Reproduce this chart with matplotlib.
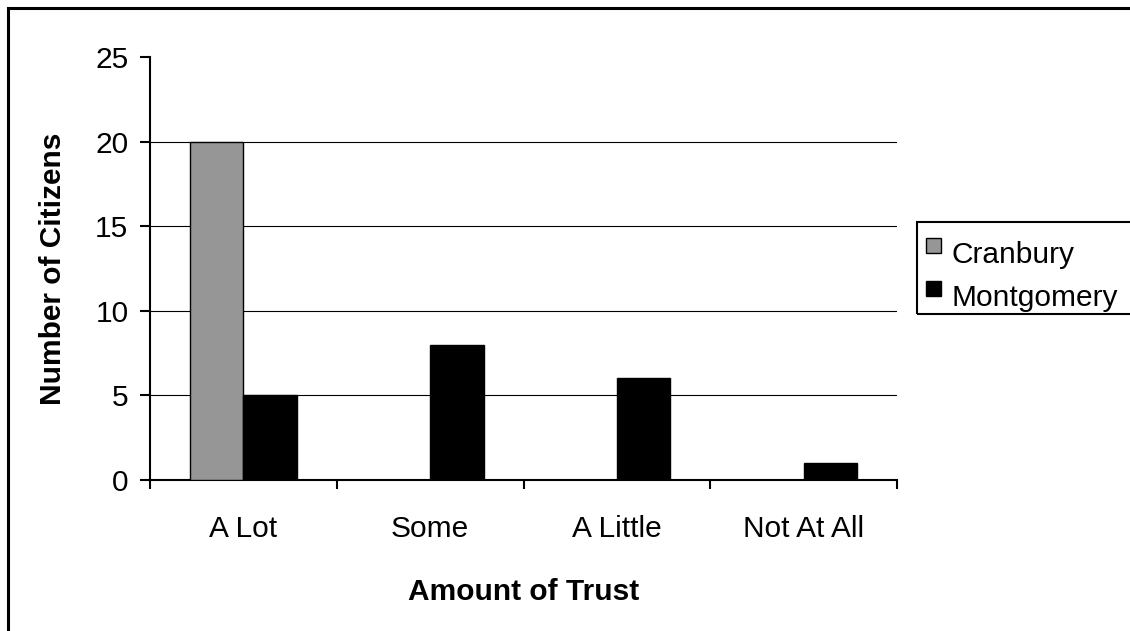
import numpy as np
import matplotlib.pyplot as plt
from matplotlib.patches import Rectangle
from matplotlib.container import BarContainer
from matplotlib.legend_handler import HandlerPatch, update_from_first_child

plt.rcParams['font.family'] = ['Liberation Sans', 'DejaVu Sans']

# data
categories = ['A Lot', 'Some', 'A Little', 'Not At All']
cranbury = [20, 0, 0, 0]
montgomery = [5, 8, 6, 1]

fig = plt.figure(figsize=(11.3, 6.31), dpi=100)
ax = fig.add_axes([150 / 1130, 1 - 480 / 631, 747 / 1130, 423 / 631])

x = np.arange(len(categories))
w = 0.287
ax.bar(x - w / 2, cranbury, w, color='#969696', edgecolor='black', linewidth=1.0,
       label='Cranbury', zorder=3)
ax.bar(x + w / 2, montgomery, w, color='black', edgecolor='black', linewidth=1.0,
       label='Montgomery', zorder=3)

ax.set_xlim(-0.5, len(categories) - 0.5)
ax.set_ylim(0, 25)
ax.set_yticks([0, 5, 10, 15, 20, 25])
for yv in [5, 10, 15, 20]:
    ax.axhline(yv, color='black', linewidth=0.8, zorder=1)

# ticks at group boundaries, labels at centers
ax.set_xticks(np.arange(len(categories) + 1) - 0.5)
ax.set_xticklabels([])
ax.set_xticks(x, minor=True)
ax.set_xticklabels(categories, minor=True)
ax.tick_params(axis='x', which='minor', length=0, pad=25, labelsize=21.5)
ax.tick_params(axis='x', which='major', length=6.5, width=1.5, direction='out')
ax.tick_params(axis='y', length=7.5, width=1.5, direction='out', pad=8, labelsize=21.5)

for s in ['top', 'right']:
    ax.spines[s].set_visible(False)
for s in ['left', 'bottom']:
    ax.spines[s].set_linewidth(1.5)

ax.set_xlabel('Amount of Trust', fontsize=21.5, fontweight='bold', labelpad=25.5)
ax.set_ylabel('Number of Citizens', fontsize=21.5, fontweight='bold', labelpad=20)


# small square legend keys sitting a bit above the text centre
def square_key(legend, orig_handle, xdescent, ydescent, width, height, fontsize):
    s = 0.5 * fontsize
    return Rectangle((-xdescent, -ydescent + 0.27 * fontsize), s, s)


leg = fig.legend(loc='upper left', bbox_to_anchor=(917 / 1130, 1 - 232 / 631),
                 fontsize=21.5, frameon=False, borderpad=0.3,
                 handlelength=0.5, handleheight=0.5, handletextpad=0.35,
                 labelspacing=0.52, borderaxespad=0,
                 handler_map={BarContainer: HandlerPatch(patch_func=square_key,
                                                         update_func=update_from_first_child)})

# legend box
fig.patches.append(Rectangle((917 / 1130, 1 - 314 / 631), 0.3, 92 / 631,
                             transform=fig.transFigure, fill=False,
                             edgecolor='black', linewidth=1.5))

# outer chart border (only left/top edges fall inside the picture)
fig.patches.append(Rectangle((8 / 1130, -0.2), 1.2, 1.2 - 8 / 631,
                             transform=fig.transFigure, fill=False,
                             edgecolor='black', linewidth=2.2))

fig.savefig('out.png', dpi=100)
